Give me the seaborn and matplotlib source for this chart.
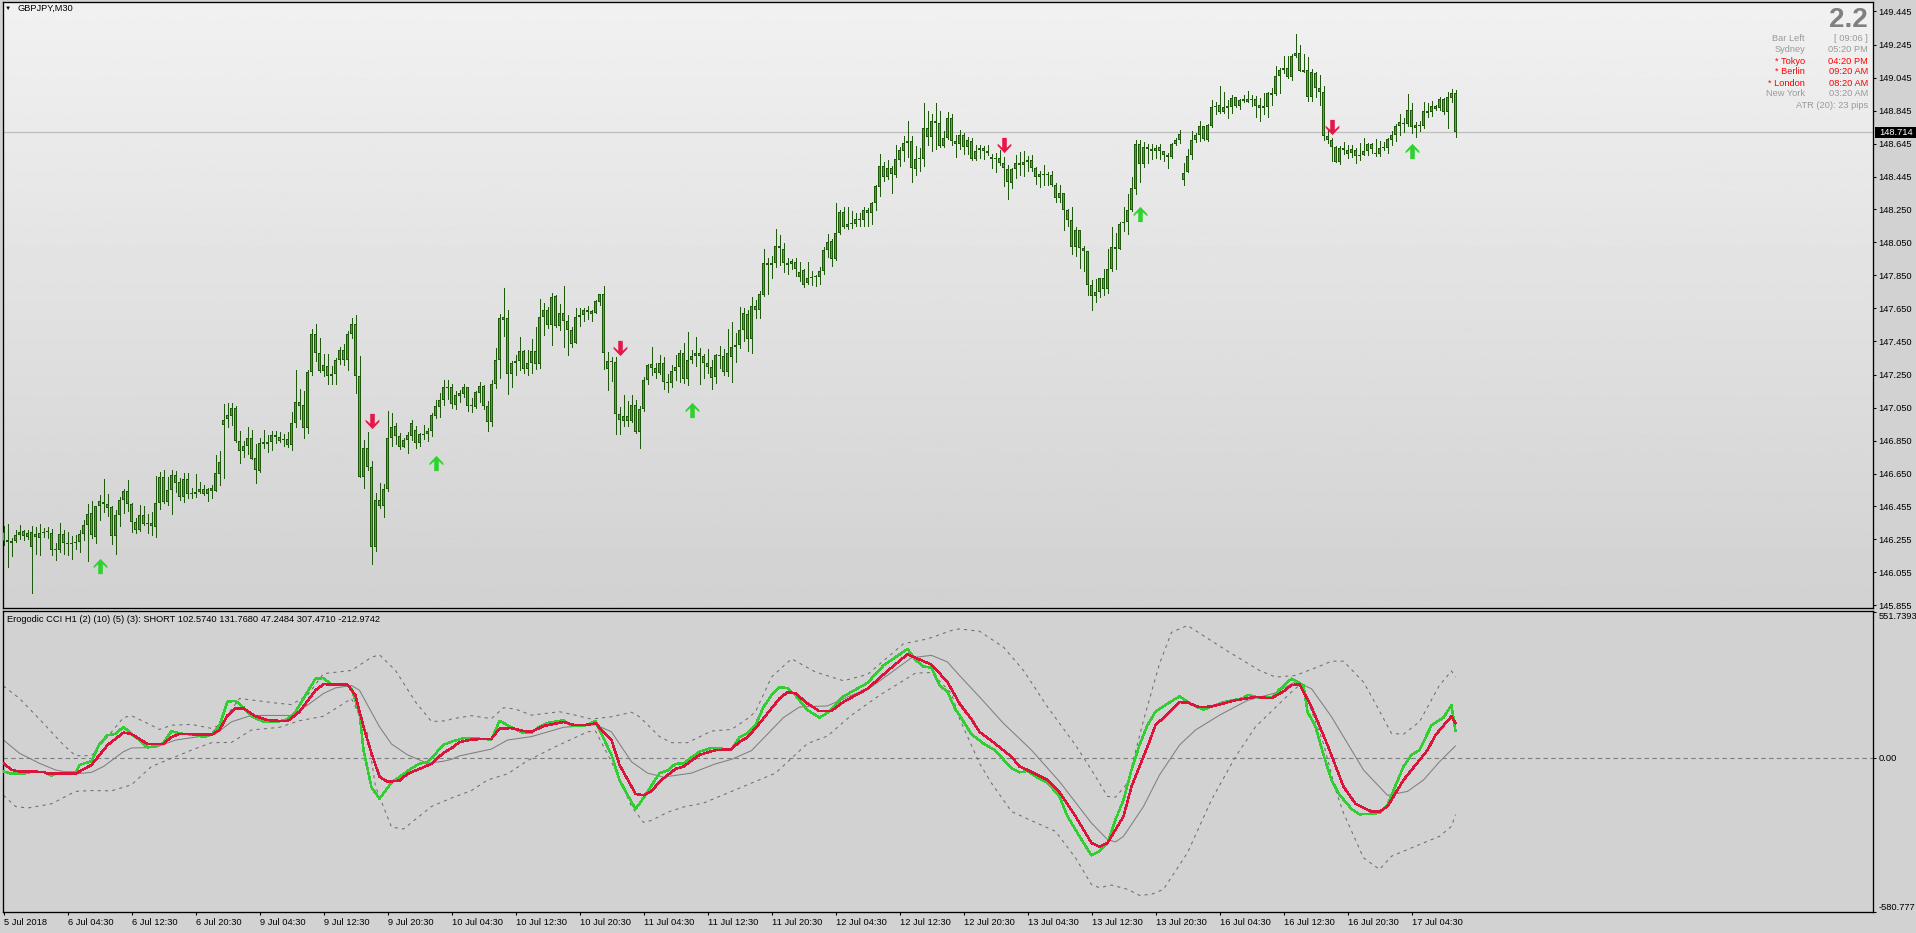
import numpy as np
import matplotlib
matplotlib.use("Agg")
import matplotlib.pyplot as plt
from matplotlib.path import Path
from matplotlib.patches import Rectangle
import seaborn as sns

# GBPJPY M30 candles, stored as points above 145.000
base_price = 145.0
opens_pts = [
    1298,1236,1230,1242,1278,1304,1270,1206,1286,1260,1290,1296,1292,1190,1188,1286,1224,1224,1230,1236,1284,1338,1412,1266,1454,
    1466,1466,1448,1272,1400,1490,1544,1466,1358,1310,1400,1344,1352,1326,1472,1628,1482,1550,1640,1598,1512,1616,1526,1528,1542,
    1556,1530,1548,1548,1650,1944,1980,1998,2048,1850,1788,1818,1868,1748,1666,1830,1830,1842,1872,1874,1854,1862,1824,1958,2086,
    2066,1924,2266,2496,2380,2272,2304,2242,2254,2340,2400,2340,2494,2556,2244,1632,1806,1692,1206,1494,1456,1558,1866,1938,1878,
    1810,1852,1876,1914,1834,1882,1888,1906,2002,2056,2094,2170,2172,2068,2122,2134,2172,2058,2056,2140,2178,2058,1966,2194,2340,
    2596,2592,2256,2322,2334,2394,2322,2322,2394,2316,2598,2640,2550,2724,2544,2622,2572,2520,2442,2598,2608,2640,2634,
    2625,2691,2735,2283,2327,2327,2013,1971,1997,1971,2069,1905,2041,2219,2315,2289,2261,2321,2201,2201,2273,2297,2381,2225,2339,
    2363,2381,2363,2321,2297,2235,2363,2363,2267,2357,2417,2427,2517,2615,2463,2663,2639,2733,2927,2915,2925,3029,3011,2915,2921,
    2933,2837,2885,2801,2831,2837,2837,2879,3005,3059,2947,3107,3233,3141,3161,3163,3185,3185,3245,3227,3287,3383,3509,
    3446,3496,3458,3548,3602,3650,3664,3494,3550,3550,3742,3688,3784,3772,3632,3682,3802,3664,3644,3700,3626,3664,3554,3610,3622,
    3604,3556,3550,3562,3526,3490,3406,3490,3526,3514,3532,3544,3496,3442,3456,3454,3454,3394,3316,3346,3244,3184,3020,3124,3016,
    2998,2794,2722,2750,2836,2770,2888,3022,3010,3164,3170,3244,3370,3646,3520,3628,3604,3604,3628,3604,3568,3568,3644,3670,
    3425,3473,3575,3667,3697,3751,3667,3753,3867,3877,3839,3863,3869,3925,3875,3901,3899,3907,3913,3877,3863,3869,3941,3947,4057,
    4093,4105,4049,4175,4195,4081,4093,3929,4075,3959,3961,3691,3665,3625,3535,3607,3607,3587,3607,3573,3577,3601,3643,3581,3581,
    3617,3617,3667,3701,3755,3763,3767,3847,3743,3755,3755,3833,3835,3857,3859,3913,3839,3923,3949,
]
closes_pts = [
    1242,1252,1246,1280,1298,1272,1292,1298,1266,1292,1300,1298,1188,1192,1286,1230,1232,1232,1232,1286,1340,1406,1278,1454,1484,
    1478,1446,1272,1400,1490,1544,1466,1358,1308,1400,1346,1352,1332,1472,1628,1482,1550,1640,1592,1512,1616,1526,1528,1542,1556,
    1528,1556,1562,1652,1724,1976,2006,2048,1850,1790,1820,1868,1742,1674,1838,1844,1844,1886,1886,1848,1862,1824,1958,2084,2058,
    1924,2268,2496,2380,2272,2310,2242,2256,2340,2400,2340,2496,2556,2242,1632,1806,1692,1206,1494,1456,1560,1866,1932,1876,1810,
    1854,1884,1956,1834,1890,1884,1908,2004,2058,2094,2172,2172,2070,2124,2136,2172,2058,2060,2142,2178,2058,1966,2196,2340,2592,
    2578,2256,2322,2334,2394,2286,2284,2394,2316,2598,2640,2550,2718,2544,2622,2574,2520,2436,2598,2610,2640,2628,2616,
    2693,2735,2379,2333,2333,2013,1977,1997,1971,2069,1905,2039,2219,2309,2289,2257,2321,2207,2207,2273,2297,2381,2225,2339,2363,
    2381,2363,2321,2297,2231,2369,2369,2267,2381,2417,2429,2519,2621,2465,2663,2639,2735,2927,2915,2927,3029,3017,2927,2927,2939,
    2891,2867,2793,2831,2837,2843,2879,3005,3053,2951,3107,3233,3141,3161,3167,3191,3191,3245,3225,3287,3389,3509,3443,
    3496,3464,3550,3610,3652,3664,3496,3556,3562,3742,3688,3784,3772,3634,3682,3802,3664,3646,3700,3628,3670,3552,3604,3622,3604,
    3592,3568,3562,3526,3496,3412,3490,3526,3514,3532,3544,3500,3442,3460,3460,3460,3394,3316,3346,3244,3184,3020,3124,3016,2998,
    2792,2722,2752,2836,2768,2890,3022,3010,3160,3172,3244,3376,3646,3520,3628,3614,3616,3622,3604,3580,3580,3646,3670,3706,
    3469,3571,3667,3697,3751,3671,3757,3865,3871,3839,3865,3871,3919,3875,3907,3913,3913,3913,3875,3863,3871,3949,3949,4057,4093,
    4105,4049,4177,4195,4087,4093,3929,4081,3985,3985,3691,3667,3625,3535,3619,3619,3583,3613,3571,3577,3601,3643,3613,3589,3619,
    3619,3673,3697,3751,3775,3769,3847,3745,3757,3757,3841,3841,3871,3871,3913,3839,3925,3949,3715,
]
highs_pts = [
    1336,1348,1262,1312,1342,1312,1312,1336,1328,1348,1322,1328,1316,1232,1352,1308,1300,1272,1282,1308,1372,1468,1486,1456,1522,
    1618,1528,1456,1432,1512,1556,1612,1472,1382,1460,1456,1408,1420,1636,1662,1672,1632,1672,1668,1622,1652,1658,1562,1648,1598,
    1582,1562,1582,1762,1786,2072,2080,2080,2062,1906,1848,1936,1912,1832,1868,1912,1882,1906,1906,1902,1888,1902,2026,2276,2162,
    2150,2276,2526,2556,2472,2372,2372,2300,2352,2416,2432,2516,2594,2612,2360,1856,1902,1730,1532,1592,1586,2030,2016,1956,1898,
    1866,1902,1976,1940,1896,1946,1926,2016,2096,2136,2216,2216,2196,2150,2156,2190,2176,2106,2150,2204,2186,2090,2216,2412,2616,
    2772,2640,2330,2366,2480,2400,2396,2466,2540,2706,2682,2656,2742,2732,2676,2786,2612,2536,2652,2652,2652,2664,2640,
    2701,2737,2785,2389,2357,2357,2053,2129,2091,2129,2097,2059,2237,2315,2419,2321,2371,2355,2251,2305,2371,2401,2443,2509,2401,
    2479,2411,2377,2405,2341,2377,2425,2405,2527,2569,2503,2657,2653,2641,2719,2699,2755,3007,2953,2965,3127,3091,3043,2953,2951,
    2953,2929,2889,2929,2875,2849,2899,3023,3101,3071,3289,3245,3265,3265,3239,3227,3227,3263,3257,3295,3395,3581,3535,
    3546,3510,3640,3626,3694,3784,3694,3634,3622,3892,3844,3826,3892,3846,3724,3838,3822,3700,3730,3710,3686,3682,3636,3636,3634,
    3636,3586,3592,3606,3564,3514,3496,3580,3594,3600,3570,3580,3502,3478,3516,3472,3480,3406,3394,3350,3250,3262,3142,3124,3030,
    2998,2820,2826,2836,2890,3012,3142,3106,3172,3264,3342,3442,3666,3666,3658,3646,3646,3640,3646,3604,3592,3652,3680,3726,
    3529,3613,3723,3709,3781,3755,3763,3909,3897,3993,3961,3909,3937,3927,3915,3937,3967,3937,3931,3919,3949,3955,3985,4117,4105,
    4177,4177,4189,4309,4243,4189,4171,4099,4081,4063,3997,3729,3679,3629,3631,3655,3637,3639,3621,3651,3679,3651,3647,3673,3661,
    3655,3679,3721,3763,3825,3801,3943,3889,3775,3783,3897,3889,3901,3877,3925,3919,3961,3979,3973,
]
lows_pts = [
    1222,1086,1152,1236,1258,1248,1258,928,1168,1162,1270,1264,1158,1132,1176,1168,1162,1138,1198,1180,1248,1122,1264,1234,1372,
    1422,1398,1228,1168,1336,1414,1426,1300,1294,1302,1338,1292,1282,1270,1438,1476,1462,1408,1542,1492,1482,1504,1502,1512,1532,
    1522,1486,1506,1544,1582,1626,1932,1946,1842,1716,1752,1772,1738,1596,1660,1808,1782,1792,1838,1842,1818,1812,1792,1936,1982,
    1864,1894,2246,2332,2264,2240,2192,2192,2192,2316,2306,2276,2470,2140,1630,1564,1676,1102,1184,1444,1390,1544,1820,1832,1802,
    1810,1778,1856,1808,1816,1862,1850,1876,1988,1996,2066,2102,2046,2042,2084,2116,2032,2026,2050,2086,2044,1910,1942,2170,2228,
    2486,2132,2174,2246,2276,2260,2248,2260,2286,2292,2492,2532,2426,2536,2522,2416,2366,2414,2440,2546,2576,2588,2576,
    2621,2671,2281,2155,2209,1891,1891,1941,1939,1965,1899,1809,2031,2191,2245,2227,2253,2161,2143,2173,2215,2207,2197,2185,2321,
    2301,2191,2227,2257,2161,2197,2287,2245,2239,2203,2323,2413,2455,2395,2383,2593,2589,2727,2737,2833,2901,2911,2869,2857,2887,
    2845,2815,2781,2795,2791,2785,2797,2857,2961,2905,2941,3101,3133,3127,3133,3145,3145,3145,3151,3163,3247,3327,3421,
    3434,3350,3446,3510,3542,3568,3416,3458,3482,3510,3636,3602,3612,3624,3624,3676,3640,3566,3616,3584,3582,3546,3546,3558,3552,
    3576,3498,3474,3518,3390,3312,3378,3440,3456,3450,3480,3480,3402,3384,3396,3396,3390,3294,3292,3126,3150,2976,2964,2892,2874,
    2730,2640,2688,2716,2730,2742,2876,2886,3006,3120,3102,3236,3342,3412,3502,3528,3552,3562,3556,3542,3500,3562,3638,3650,
    3395,3473,3555,3653,3659,3665,3663,3749,3825,3833,3829,3803,3833,3869,3857,3899,3897,3875,3807,3785,3823,3807,3881,3941,3953,
    4071,4045,4031,4169,4085,4079,3905,3905,3929,3881,3665,3647,3541,3533,3521,3583,3557,3565,3527,3545,3575,3577,3589,3569,3571,
    3605,3591,3639,3659,3699,3719,3753,3713,3683,3725,3743,3809,3815,3849,3851,3825,3743,3899,3683,
]

# signal arrows (bar index, price)
up_bars = [24, 108, 172, 284, 352]
up_prices = [146.093, 146.716, 147.036, 148.219, 148.600]
down_bars = [92, 154, 250, 332]
down_prices = [146.971, 147.412, 148.640, 148.749]

current_price = 148.714
price_ticks = [149.445, 149.245, 149.045, 148.845, 148.645, 148.445, 148.250, 148.050, 147.850, 147.650,
               147.450, 147.250, 147.050, 146.850, 146.650, 146.455, 146.255, 146.055, 145.855]
cci_ticks = [551.7393, 0.0, -580.777]
cci_tick_labels = ["551.7393", "0.00", "-580.777"]

time_bars = [0, 16, 32, 48, 64, 80, 96, 112, 128, 144, 160, 176, 192, 208, 224, 240, 256, 272, 288, 304, 320, 336, 352]
time_labels = ["5 Jul 2018", "6 Jul 04:30", "6 Jul 12:30", "6 Jul 20:30", "9 Jul 04:30", "9 Jul 12:30", "9 Jul 20:30",
               "10 Jul 04:30", "10 Jul 12:30", "10 Jul 20:30", "11 Jul 04:30", "11 Jul 12:30", "11 Jul 20:30",
               "12 Jul 04:30", "12 Jul 12:30", "12 Jul 20:30", "13 Jul 04:30", "13 Jul 12:30", "13 Jul 20:30",
               "16 Jul 04:30", "16 Jul 12:30", "16 Jul 20:30", "17 Jul 04:30"]

# Erogodic CCI lines
green_bars = [0,2,5,7,10,12,13,16,18,19,22,24,26,28,30,32,34,36,38,40,42,44,48,50,52,54,56,58,60,62,65,68,71,73,75,78,80,82,86,87,89,90,92,94,97,102,104,106,110,112,
              115,118,122,124,127,130,132,134,136,140,142,146,148,149,152,154,156,158,160,164,166,168,170,174,177,182,184,186,188,190,192,194,196,198,201,204,206,210,216,220,224,226,228,230,232,234,236,238,
              239,242,245,248,252,254,256,259,261,264,266,269,272,274,276,278,280,282,284,286,288,290,294,297,300,305,310,311,314,317,319,322,325,326,328,330,332,334,337,339,344,346,350,352,354,357,360,362,363]
green_vals = [-50,-58,-58,-51,-51,-66,-58,-51,-55,-25,-11,54,87,92,119,92,69,41,46,58,103,94,88,80,89,125,214,217,192,159,138,137,147,176,226,301,303,278,276,263,169,31,-109,-153,-92,-38,-20,-16,51,63,
              76,75,71,142,117,95,97,119,134,144,123,125,142,107,13,-82,-138,-192,-150,-56,-46,-21,-19,25,39,34,79,94,125,194,238,268,266,238,182,154,172,234,285,351,392,413,372,347,342,276,251,184,
              163,91,56,29,-38,-53,-48,-78,-92,-144,-219,-295,-367,-351,-320,-232,-157,-44,50,125,176,197,234,203,184,212,227,240,229,229,260,301,276,176,119,13,-82,-138,-191,-212,-207,-176,-31,13,31,125,154,201,103]
red_bars = [0,2,4,10,11,18,22,26,30,32,36,40,42,44,52,54,56,58,60,63,66,71,74,78,80,86,88,90,92,94,96,99,101,107,110,
            112,114,117,122,124,127,130,132,135,140,143,146,148,152,154,158,160,162,164,168,170,174,178,182,184,186,189,194,196,198,201,204,207,210,216,221,226,232,236,
            239,242,244,247,252,254,256,261,264,268,272,274,276,280,282,286,288,292,294,296,299,302,308,313,317,320,322,324,327,331,335,338,342,344,346,350,356,358,362,363]
red_vals = [-19,-44,-50,-51,-58,-58,-25,50,97,92,54,55,80,92,89,107,162,189,189,159,144,140,176,257,280,278,238,119,19,-69,-89,-84,-59,-21,21,
            38,61,71,74,112,114,103,100,122,137,125,127,132,69,-25,-134,-140,-125,-88,-40,-31,13,31,34,63,79,132,226,250,245,207,178,179,213,263,330,393,354,288,
            207,147,100,66,6,-31,-44,-82,-129,-219,-320,-334,-320,-219,-107,44,125,182,212,211,193,196,219,232,227,253,277,280,194,50,-107,-172,-201,-202,-182,-82,31,88,159,132]
mid_bars = [0,4,9,13,18,22,25,30,32,38,43,49,53,57,62,72,76,80,83,87,89,94,97,101,106,110,
            112,114,122,126,132,140,148,152,157,161,165,172,178,182,187,195,199,206,212,217,227,232,236,
            239,244,250,257,264,272,276,278,280,285,289,294,298,304,311,318,323,327,332,340,346,351,355,359,363]
mid_vals = [69,19,-19,-44,-59,-53,-31,25,39,41,69,82,92,138,162,162,201,245,266,275,257,119,54,13,-19,-11,
            -4,9,35,69,82,117,127,100,-13,-56,-71,-56,-21,-4,29,154,194,198,238,270,380,389,364,
            313,232,132,31,-88,-245,-307,-316,-295,-182,-63,50,107,163,219,247,290,263,157,-44,-140,-125,-82,-13,47]
upper_bars = [0,4,10,15,18,22,25,30,32,36,39,42,47,52,54,59,68,72,76,80,87,92,94,98,103,107,111,
              112,117,122,125,128,132,139,143,147,152,157,159,164,167,171,177,182,186,188,192,197,203,210,216,225,231,237,
              239,244,250,255,261,268,272,276,278,281,285,289,292,296,306,314,318,323,328,332,335,340,343,347,350,354,359,362,363]
upper_vals = [273,226,132,50,10,10,63,154,161,132,109,125,128,113,125,226,209,203,238,320,332,382,391,332,213,139,142,
              149,161,150,191,186,163,176,163,148,157,174,157,82,59,59,103,109,150,176,307,376,326,293,317,433,451,483,
              489,480,420,332,194,50,-44,-144,-147,-94,144,357,476,502,405,332,307,313,342,367,367,288,207,94,91,138,276,330,307]
lower_bars = [0,3,6,12,18,22,27,32,37,42,47,52,57,62,69,74,80,87,91,93,97,100,107,
              112,117,121,126,131,138,146,148,152,157,160,162,166,170,175,183,193,197,201,206,212,219,228,232,237,
              239,244,247,252,256,263,268,272,274,277,281,284,287,290,296,302,308,313,322,324,326,330,333,335,340,344,347,354,359,362,363]
lower_vals = [-140,-182,-188,-172,-125,-122,-123,-100,-31,0,31,59,60,107,117,142,159,226,94,-107,-260,-267,-182,
              -150,-122,-82,-59,-9,44,100,103,-13,-182,-242,-235,-204,-184,-169,-119,-56,0,56,84,163,238,322,324,245,
              150,-19,-94,-201,-229,-276,-376,-477,-489,-479,-495,-518,-514,-495,-357,-157,6,119,251,276,219,56,-119,-207,-376,-420,-370,-326,-295,-257,-213]

W, H = 1916, 933
BG = "#d2d2d2"
LABEL_SIZE = 6.65
sns.set_theme(style="white")
plt.rcParams['font.family'] = ['Liberation Sans', 'DejaVu Sans']
plt.rcParams['font.size'] = LABEL_SIZE

opens = base_price + np.array(opens_pts) / 1000
closes = base_price + np.array(closes_pts) / 1000
highs = base_price + np.array(highs_pts) / 1000
lows = base_price + np.array(lows_pts) / 1000
bars = np.arange(len(opens))

fig = plt.figure(figsize=(W / 100, H / 100), dpi=100, facecolor=BG)


def px_axes(left, top, right, bottom):
    return fig.add_axes([left / W, 1 - bottom / H, (right - left) / W, (bottom - top) / H])


def px_text(x, y, s, **kw):
    kw.setdefault("va", "center")
    kw.setdefault("fontsize", LABEL_SIZE)
    fig.text(x / W, 1 - y / H, s, **kw)


ax1 = px_axes(2.5, 2, 1873, 608)
ax2 = px_axes(2.5, 610.5, 1873, 912)
# each bar takes 4 pixels, so these limits put every bar centre on a pixel centre
x_range = (-0.25, 467.375)
price_range = (145.839, 149.502)
one_px = (price_range[1] - price_range[0]) / 606

# price panel
ax1.imshow(np.linspace(0.945, 0.82, 256).reshape(-1, 1), aspect="auto", cmap="gray", vmin=0, vmax=1,
           extent=(x_range[0], x_range[1], price_range[0], price_range[1]), zorder=0)
ax1.axhline(current_price, color="#bdbdbd", lw=0.9, zorder=1)

wick = "#1f5a0c"
ax1.vlines(bars, lows, highs, color=wick, lw=0.72, antialiased=False, zorder=2)

# dark outline block first, then the coloured core on top
body_low = np.minimum(opens, closes)
body_high = np.maximum(opens, closes)
ax1.bar(bars, np.maximum(body_high - body_low, one_px), bottom=body_low, width=0.75, color=wick, linewidth=0,
        antialiased=False, zorder=3)
bull = closes >= opens
tall = (body_high - body_low) > 2.2 * one_px
for mask, colour in ((bull & tall, "#2fb82f"), (~bull & tall, "#dd6a4e")):
    ax1.bar(bars[mask], (body_high - body_low)[mask] - 2 * one_px, bottom=body_low[mask] + one_px, width=0.25,
            color=colour, linewidth=0, antialiased=False, zorder=4)

up_arrow = Path([(0, 1), (0.9, 0.05), (0.9, -0.25), (0.3, 0.3), (0.3, -1), (-0.3, -1), (-0.3, 0.3), (-0.9, -0.25),
                 (-0.9, 0.05), (0, 1)], closed=True)
down_arrow = Path([(x, -y) for x, y in up_arrow.vertices], closed=True)
sns.scatterplot(x=up_bars, y=up_prices, ax=ax1, marker=up_arrow, s=120, color="#2ed12e", linewidth=0, zorder=5)
sns.scatterplot(x=down_bars, y=down_prices, ax=ax1, marker=down_arrow, s=120, color="#e5174a", linewidth=0, zorder=5)

ax1.set_xlim(*x_range)
ax1.set_ylim(*price_range)
ax1.set_xticks([])
ax1.yaxis.tick_right()
ax1.set_yticks(price_ticks)
ax1.set_yticklabels([f"{t:.3f}" for t in price_ticks])

# indicator panel
ax2.set_facecolor(BG)
ax2.axhline(0, color="#7d7d7d", lw=0.8, ls=(0, (4, 3)), zorder=1)
dash = (0, (3, 4))
sns.lineplot(x=upper_bars, y=upper_vals, ax=ax2, color="#6e6e6e", linewidth=0.75, linestyle=dash, zorder=2)
sns.lineplot(x=lower_bars, y=lower_vals, ax=ax2, color="#6e6e6e", linewidth=0.75, linestyle=dash, zorder=2)
sns.lineplot(x=mid_bars, y=mid_vals, ax=ax2, color="#7f7f7f", linewidth=0.75, zorder=2)
sns.lineplot(x=green_bars, y=green_vals, ax=ax2, color="#32cd32", linewidth=1.05, antialiased=False, zorder=3)
sns.lineplot(x=red_bars, y=red_vals, ax=ax2, color="#dc143c", linewidth=1.05, antialiased=False, zorder=4)

ax2.set_xlim(*x_range)
ax2.set_ylim(-580.777, 558.5)
ax2.yaxis.tick_right()
ax2.set_yticks(cci_ticks)
ax2.set_yticklabels(cci_tick_labels)
for lab, va in zip(ax2.get_yticklabels(), ["top", "center", "bottom"]):
    lab.set_va(va)
ax2.set_xticks(time_bars)
ax2.set_xticklabels(time_labels, ha="left")
ax2.set_xlabel("")
ax2.set_ylabel("")

for ax in (ax1, ax2):
    ax.tick_params(axis="both", length=2.5, width=0.75, color="black", labelcolor="black", pad=1.5,
                   labelsize=LABEL_SIZE, bottom=ax is ax2, right=True, left=False, labelright=True, labelleft=False)
    for spine in ax.spines.values():
        spine.set_visible(True)
        spine.set_color("black")
        spine.set_linewidth(0.95)

# header texts
px_text(8, 8.5, "\u25bc", fontsize=4.5, ha="center", color="black")
px_text(18, 8.5, "GBPJPY,M30", color="black")
px_text(7, 619.5, "Erogodic CCI H1 (2) (10) (5) (3): SHORT 102.5740 131.7680 47.2484 307.4710 -212.9742", color="black")

# info block in the top right corner
px_text(1868, 20, "2.2", fontsize=20, fontweight="bold", color="#808080", ha="right")
info_grey = "#9a9a9a"
info_rows = [("Bar Left", "[ 09:06 ]", info_grey, 38.5), ("Sydney", "05:20 PM", info_grey, 50),
             ("* Tokyo", "04:20 PM", "#ff0000", 61), ("* Berlin", "09:20 AM", "#ff0000", 72),
             ("* London", "08:20 AM", "#ff0000", 83), ("New York", "03:20 AM", info_grey, 94)]
for name, clock, colour, y in info_rows:
    px_text(1805, y, name, color=colour, ha="right")
    px_text(1868, y, clock, color=colour, ha="right")
px_text(1868, 105, "ATR (20): 23 pips", color=info_grey, ha="right")

# current price tag
fig.add_artist(Rectangle((1875 / W, 1 - 138 / H), 41 / W, 11 / H, transform=fig.transFigure, color="black", lw=0))
px_text(1879, 132.5, "148.714", color="white")

fig.savefig("out.png", dpi=100, facecolor=BG)
